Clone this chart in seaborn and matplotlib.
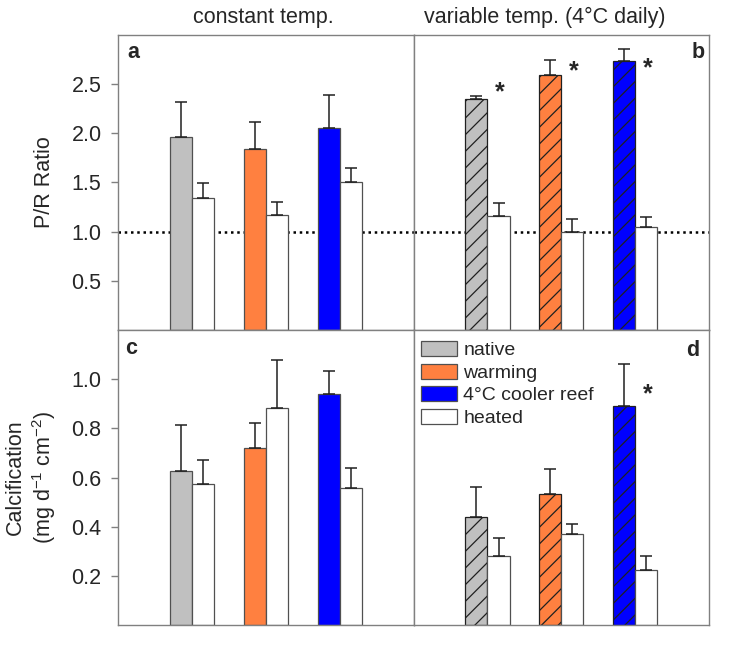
import numpy as np
import pandas as pd
import seaborn as sns
import matplotlib.pyplot as plt
from matplotlib.patches import Patch

groups = ['native', 'warming', '4°C cooler reef']
treatments = ['control', 'heated']
group_colors = ['#c0c0c0', '#ff8040', '#0000ff']

# P/R ratio: (control, heated) per group, with upper SE
pr_const = [1.96, 1.84, 2.05]
pr_const_heat = [1.34, 1.17, 1.50]
pr_const_err = [0.36, 0.27, 0.34]
pr_const_heat_err = [0.15, 0.13, 0.15]

pr_var = [2.35, 2.59, 2.73]
pr_var_heat = [1.16, 1.00, 1.05]
pr_var_err = [0.03, 0.15, 0.12]
pr_var_heat_err = [0.13, 0.13, 0.10]

# calcification (mg d-1 cm-2)
calc_const = [0.627, 0.720, 0.940]
calc_const_heat = [0.573, 0.884, 0.559]
calc_const_err = [0.188, 0.103, 0.093]
calc_const_heat_err = [0.097, 0.196, 0.079]

calc_var = [0.439, 0.535, 0.892]
calc_var_heat = [0.281, 0.372, 0.223]
calc_var_err = [0.121, 0.100, 0.171]
calc_var_heat_err = [0.073, 0.040, 0.059]

# significance stars: group index, height
stars_b = [(0, 2.41), (1, 2.63), (2, 2.66)]
stars_d = [(2, 0.94)]

sns.set_theme(style='white')
plt.rcParams['font.family'] = ['Liberation Sans', 'DejaVu Sans']
plt.rcParams['mathtext.default'] = 'regular'
plt.rcParams['hatch.linewidth'] = 0.9

FS = 15.5


def make_df(ctrl, heat, ctrl_err, heat_err):
    rows = []
    for i, g in enumerate(groups):
        rows.append((g, 'control', ctrl[i], ctrl_err[i]))
        rows.append((g, 'heated', heat[i], heat_err[i]))
    return pd.DataFrame(rows, columns=['group', 'treatment', 'value', 'err'])


def draw_panel(ax, df, hatched):
    sns.barplot(data=df, x='group', y='value', hue='treatment', order=groups,
                hue_order=treatments, width=0.6, gap=0, errorbar=None,
                legend=False, ax=ax, zorder=2)
    for t, cont in zip(treatments, ax.containers):
        sub = df[df['treatment'] == t].set_index('group').loc[groups]
        xs = []
        for i, bar in enumerate(cont):
            bar.set_edgecolor('#505050')
            bar.set_linewidth(0.9)
            if t == 'control':
                bar.set_facecolor(group_colors[i])
                if hatched:
                    bar.set_hatch('//')
                    if hasattr(bar, 'set_hatchcolor'):
                        bar.set_hatchcolor('#101010')
                    else:
                        bar.set_edgecolor('#202020')
            else:
                bar.set_facecolor('white')
            xs.append(bar.get_x() + bar.get_width() / 2)
        ax.errorbar(xs, sub['value'], yerr=[np.zeros(len(xs)), sub['err']],
                    fmt='none', ecolor='#202020', elinewidth=1.1, capsize=4.5,
                    capthick=1.1, zorder=3)
    ax.set_xlim(-1, 3)
    ax.set_xlabel('')
    ax.set_ylabel('')
    ax.set_xticks([])
    for sp in ax.spines.values():
        sp.set_color('#808080')
        sp.set_linewidth(1.0)
        sp.set_visible(True)


fig, axes = plt.subplots(2, 2, figsize=(7.36, 6.53), dpi=100)
fig.subplots_adjust(left=0.1607, right=0.9633, top=0.9469, bottom=0.0424,
                    wspace=0, hspace=0)

draw_panel(axes[0, 0], make_df(pr_const, pr_const_heat, pr_const_err, pr_const_heat_err), False)
draw_panel(axes[0, 1], make_df(pr_var, pr_var_heat, pr_var_err, pr_var_heat_err), True)
draw_panel(axes[1, 0], make_df(calc_const, calc_const_heat, calc_const_err, calc_const_heat_err), False)
draw_panel(axes[1, 1], make_df(calc_var, calc_var_heat, calc_var_err, calc_var_heat_err), True)

for ax in axes[0]:
    ax.set_ylim(0, 3.0)
    ax.axhline(1.0, color='black', ls=(0, (1, 1.5)), lw=1.8, zorder=1)
for ax in axes[1]:
    ax.set_ylim(0, 1.2)

axes[0, 0].set_yticks([0.5, 1.0, 1.5, 2.0, 2.5])
axes[1, 0].set_yticks([0.2, 0.4, 0.6, 0.8, 1.0])
for ax in axes[:, 0]:
    ax.tick_params(axis='y', left=True, length=5, width=1, color='#808080',
                   labelsize=FS, pad=7, direction='out')
for ax in axes[:, 1]:
    ax.set_yticks([])

axes[0, 0].set_ylabel('P/R Ratio', fontsize=FS)
axes[0, 0].yaxis.set_label_coords(-0.213, 0.5)
axes[1, 0].set_ylabel('Calcification\n(mg d$^{-1}$ cm$^{-2}$)', fontsize=FS,
                      linespacing=1.2)
axes[1, 0].yaxis.set_label_coords(-0.205, 0.5)

axes[0, 0].text(0.49, 1.057, 'constant temp.', transform=axes[0, 0].transAxes,
                ha='center', va='center', fontsize=FS)
axes[0, 1].text(0.443, 1.057, 'variable temp. (4°C daily)',
                transform=axes[0, 1].transAxes, ha='center', va='center', fontsize=FS)

for ax, lab, x, y in [(axes[0, 0], 'a', 0.05, 0.938), (axes[0, 1], 'b', 0.962, 0.938),
                      (axes[1, 0], 'c', 0.043, 0.937), (axes[1, 1], 'd', 0.945, 0.932)]:
    ax.text(x, y, lab, transform=ax.transAxes, ha='center', va='center',
            fontsize=FS, fontweight='bold')

for ax, stars in [(axes[0, 1], stars_b), (axes[1, 1], stars_d)]:
    for gi, h in stars:
        ax.text(gi + 0.17, h, '*', ha='center', va='center', fontsize=18,
                fontweight='bold')

handles = [Patch(facecolor=c, edgecolor='#505050', linewidth=0.9) for c in group_colors]
handles.append(Patch(facecolor='white', edgecolor='#505050', linewidth=0.9))
axes[1, 1].legend(handles, groups + ['heated'], loc='upper left',
                  bbox_to_anchor=(0.024, 0.962), frameon=False, fontsize=14,
                  handlelength=1.86, handleheight=0.8, handletextpad=0.34,
                  labelspacing=0.22, borderpad=0, borderaxespad=0)

fig.savefig('out.png', dpi=100)
